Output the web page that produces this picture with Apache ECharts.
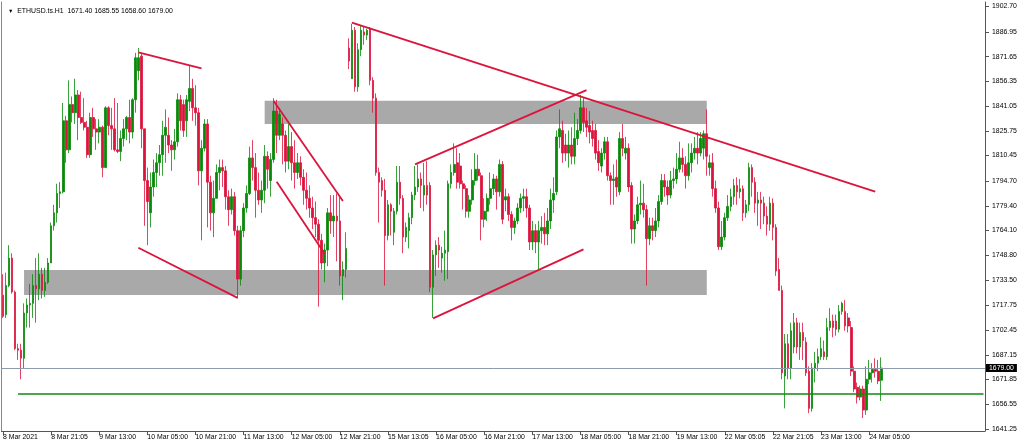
<!DOCTYPE html>
<html><head><meta charset="utf-8">
<script src="https://cdn.jsdelivr.net/npm/echarts@6/dist/echarts.min.js"></script>
<style>html,body{margin:0;padding:0;background:#fff}#c{width:1024px;height:447px}</style>
</head><body><div id="c"></div>
<script>
const opens=[
1724,1712,1730,1747,1726,1691,1690,1685,1713,1718,
1719,1730,1728,1737,1727,1732,1744,1767,1775,1787,
1788,1832,1814,1842,1837,1848,1834,1831,1828,1811,
1834,1827,1825,1828,1803,1840,1829,1827,1814,1813,
1821,1827,1834,1825,1845,1863,1872,1827,1795,1775,
1791,1800,1806,1811,1823,1823,1817,1814,1819,1845,
1842,1832,1844,1852,1840,1837,1801,1815,1830,1794,
1775,1784,1800,1803,1801,1785,1777,1785,1764,1734,
1764,1778,1787,1809,1803,1789,1783,1789,1810,1795,
1808,1838,1823,1830,1823,1807,1816,1806,1800,1806,
1797,1789,1784,1778,1772,1768,1758,1744,1752,1775,
1770,1773,1770,1736,1740,1877,1858,1888,1853,1876,
1887,1885,1889,1857,1846,1800,1795,1789,1761,1780,
1763,1776,1794,1784,1760,1764,1772,1786,1791,1796,
1786,1792,1792,1729,1749,1755,1747,1750,1751,1793,
1800,1806,1804,1793,1790,1776,1783,1795,1802,1798,
1771,1776,1784,1790,1796,1788,1805,1783,1785,1774,
1766,1770,1778,1784,1785,1778,1757,1764,1757,1764,
1766,1762,1770,1783,1788,1822,1826,1817,1812,1817,
1810,1821,1826,1840,1832,1829,1826,1826,1813,1804,
1812,1819,1798,1795,1797,1788,1821,1812,1815,1792,
1765,1770,1780,1781,1777,1759,1767,1764,1770,1782,
1795,1791,1786,1795,1796,1802,1809,1805,1798,1806,
1812,1815,1812,1815,1824,1803,1806,1790,1778,1754,
1760,1772,1779,1785,1792,1788,1790,1775,1780,1803,
1794,1781,1783,1781,1773,1768,1781,1766,1740,1727,
1674,1694,1679,1692,1707,1692,1701,1695,1677,1654,
1679,1682,1686,1689,1686,1704,1708,1708,1703,1714,
1714,1710,1704,1677,1667,1661,1666,1653,1672,1676,
1678,1677,1671.40];
const closes=[
1711,1730,1747,1726,1691,1690,1685,1713,1718,1719,
1730,1728,1737,1727,1732,1744,1767,1775,1787,1788,
1832,1814,1842,1837,1848,1834,1831,1828,1811,1834,
1827,1825,1828,1803,1840,1829,1827,1814,1813,1821,
1827,1834,1825,1845,1871,1871,1827,1795,1782,1791,
1800,1806,1811,1823,1828,1817,1814,1819,1845,1832,
1826,1845,1852,1840,1837,1801,1815,1830,1794,1775,
1784,1800,1803,1801,1785,1777,1785,1764,1734,1764,
1778,1787,1809,1803,1789,1783,1789,1810,1802,1808,
1838,1823,1836,1823,1807,1816,1806,1800,1806,1797,
1789,1784,1778,1772,1768,1758,1744,1752,1775,1770,
1773,1770,1736,1740,1753,1869,1888,1853,1876,1888,
1885,1888,1857,1846,1800,1794,1789,1761,1780,1776,
1776,1794,1784,1760,1766,1772,1786,1791,1796,1792,
1792,1786,1729,1749,1755,1752,1750,1752,1793,1800,
1805,1794,1793,1790,1776,1783,1795,1802,1798,1771,
1776,1784,1790,1796,1788,1805,1771,1785,1774,1766,
1770,1778,1784,1785,1778,1757,1764,1757,1764,1766,
1762,1770,1783,1787,1822,1827,1812,1812,1817,1810,
1821,1826,1840,1831,1828,1825,1821,1812,1806,1812,
1819,1798,1795,1796,1791,1821,1815,1815,1791,1765,
1770,1780,1781,1777,1759,1767,1764,1770,1782,1795,
1791,1786,1795,1796,1802,1809,1805,1798,1806,1812,
1815,1812,1821,1824,1810,1806,1790,1778,1754,1760,
1772,1779,1785,1792,1788,1790,1775,1780,1803,1794,
1781,1783,1781,1773,1768,1781,1766,1739,1727,1676,
1694,1679,1702,1707,1692,1701,1696,1676,1654,1679,
1682,1686,1691,1686,1704,1708,1704,1703,1714,1719,
1705,1705,1677,1666,1661,1666,1653,1672,1676,1678,
1677,1671,1679.00];
const lows=[
1710,1710,1729,1725,1690,1684,1672,1679,1704,1704,
1710,1707,1721,1722,1723,1731,1744,1764,1769,1778,
1787,1806,1812,1831,1830,1820,1830,1826,1809,1809,
1822,1814,1818,1797,1803,1823,1814,1813,1812,1807,
1816,1820,1818,1821,1837,1857,1815,1767,1755,1766,
1785,1791,1798,1798,1806,1812,1801,1808,1816,1826,
1822,1822,1838,1832,1829,1792,1758,1813,1766,1764,
1760,1784,1789,1791,1777,1767,1774,1761,1722,1730,
1760,1775,1786,1795,1772,1780,1775,1781,1790,1785,
1806,1812,1820,1805,1800,1802,1795,1790,1796,1792,
1780,1777,1772,1765,1760,1717,1740,1732,1742,1762,
1760,1745,1730,1721,1735,1864,1858,1850,1850,1872,
1879,1882,1854,1837,1798,1769,1785,1730,1758,1761,
1755,1774,1780,1750,1757,1753,1768,1783,1788,1778,
1776,1780,1726,1710,1736,1741,1738,1733,1734,1790,
1798,1790,1790,1777,1772,1772,1780,1792,1795,1758,
1766,1770,1780,1786,1777,1785,1768,1776,1770,1758,
1762,1768,1775,1776,1772,1752,1752,1750,1740,1756,
1755,1755,1765,1775,1786,1815,1806,1807,1803,1805,
1805,1817,1824,1825,1822,1818,1816,1808,1801,1800,
1808,1795,1780,1780,1785,1786,1810,1808,1788,1756,
1756,1768,1774,1772,1730,1755,1758,1760,1766,1780,
1785,1780,1784,1790,1793,1800,1800,1790,1795,1800,
1808,1805,1810,1808,1798,1798,1785,1775,1752,1752,
1758,1770,1776,1780,1780,1784,1770,1772,1776,1785,
1775,1767,1765,1768,1761,1764,1758,1736,1727,1672,
1654,1672,1672,1688,1688,1684,1684,1674,1651,1652,
1670,1677,1684,1684,1684,1702,1698,1699,1701,1712,
1702,1701,1674,1664,1657,1659,1648,1650,1669,1670,
1673,1669,1658.60];
const highs=[
1737,1738,1755,1750,1727,1694,1694,1719,1722,1731,
1737,1747,1750,1741,1741,1747,1769,1780,1793,1794,
1843,1835,1857,1847,1858,1851,1850,1846,1832,1837,
1840,1833,1833,1829,1841,1841,1840,1846,1843,1826,
1833,1835,1845,1846,1874,1877,1874,1827,1803,1800,
1808,1812,1817,1832,1839,1834,1820,1827,1849,1848,
1845,1848,1866,1858,1854,1840,1820,1833,1833,1798,
1795,1805,1808,1808,1804,1789,1790,1788,1767,1767,
1781,1792,1816,1820,1812,1800,1795,1817,1813,1812,
1846,1845,1840,1834,1826,1830,1825,1820,1812,1810,
1802,1800,1792,1785,1782,1771,1762,1756,1778,1786,
1786,1787,1786,1745,1763,1883,1892,1890,1880,1891,
1890,1889,1890,1859,1849,1803,1797,1796,1783,1781,
1778,1804,1804,1786,1769,1775,1788,1804,1805,1800,
1806,1807,1794,1752,1758,1760,1754,1764,1795,1805,
1818,1815,1812,1795,1792,1786,1802,1812,1811,1800,
1784,1787,1800,1799,1798,1808,1807,1790,1787,1776,
1772,1781,1787,1790,1790,1780,1770,1768,1770,1773,
1775,1778,1790,1797,1826,1839,1832,1824,1826,1828,
1837,1833,1848,1846,1840,1838,1832,1830,1820,1815,
1822,1822,1800,1805,1808,1825,1830,1822,1818,1794,
1774,1785,1795,1793,1780,1772,1772,1778,1786,1799,
1799,1795,1801,1803,1812,1819,1815,1810,1818,1818,
1822,1825,1825,1826,1839,1811,1812,1795,1782,1770,
1775,1786,1790,1796,1797,1796,1792,1783,1806,1805,
1797,1788,1788,1785,1779,1785,1784,1768,1747,1730,
1700,1700,1707,1713,1710,1707,1707,1698,1680,1682,
1689,1691,1698,1696,1710,1716,1712,1712,1718,1720,
1721,1713,1708,1680,1670,1668,1668,1680,1684,1682,
1685,1684,1685.55];

const tickLabels=['8 Mar 2021','8 Mar 21:05','9 Mar 13:00','10 Mar 05:00','10 Mar 21:00','11 Mar 13:00','12 Mar 05:00','12 Mar 21:00','15 Mar 13:05','16 Mar 05:00','16 Mar 21:00','17 Mar 13:00','18 Mar 05:00','18 Mar 21:00','19 Mar 13:00','22 Mar 05:05','22 Mar 21:05','23 Mar 13:00','24 Mar 05:00'];
const tickStep=16;
const totalSlots=327;
const yTicks=[1902.70,1886.95,1871.65,1856.35,1841.05,1825.75,1810.45,1794.70,1779.40,1764.10,1748.80,1733.50,1717.75,1702.45,1687.15,1671.85,1656.55,1641.25];
const lastPrice=1679.00;
const supportLevel=1662.8;
const supportStart=5;
// [startIndex, endIndex, topPrice, bottomPrice]
const zones=[[87,234,1844.4,1830.0],[7,234,1739.6,1724.2]];
const trendLines=[
 [[45,1874.3],[66,1864.4]],
 [[45,1753.4],[78,1722.4]],
 [[90,1844.2],[113,1782.3]],
 [[91,1794.3],[107,1749.5]],
 [[116,1892.7],[290,1788.1]],
 [[137,1805.0],[194,1851.0]],
 [[143,1709.7],[193,1752.4]]
];
const headerText='ETHUSD.ts.H1  1671.40 1685.55 1658.60 1679.00';

const categories=[];for(let i=0;i<totalSlots;i++)categories.push(String(i));
const candleData=opens.map((o,i)=>[o,closes[i],lows[i],highs[i]]);
const FONT='"Liberation Sans", Arial, sans-serif';
const FS=6.9;
const isTick=(i)=>i%tickStep===0 && (i/tickStep)<tickLabels.length;

const chart=echarts.init(document.getElementById('c'),null,{renderer:'canvas'});
const series=[
 {type:'line',data:[],z:1,silent:true,
  markArea:{silent:true,itemStyle:{color:'#a9a9a9',opacity:1},
   data:zones.map(z=>[{coord:[z[0],z[2]]},{coord:[z[1],z[3]]}])},
  markLine:{silent:true,symbol:['none','none'],animation:false,
   data:[
    [{coord:[supportStart,supportLevel],lineStyle:{color:'#118811',width:1.6,type:'solid'},label:{show:false}},{coord:[totalSlots-1,supportLevel]}],
    {yAxis:lastPrice,lineStyle:{color:'#8c9cab',width:1,type:'solid'},
     label:{show:true,position:'end',distance:1,formatter:lastPrice.toFixed(2),backgroundColor:'#000',color:'#fff',padding:[1,3,0,3],fontSize:FS,fontFamily:FONT}}
   ]}
 },
 {type:'candlestick',data:candleData,z:3,barWidth:2.2,barMinWidth:2,silent:true,
  itemStyle:{color:'#078a07',color0:'#dc143c',borderColor:'#078a07',borderColor0:'#dc143c',borderWidth:0.8}}
];
trendLines.forEach(tl=>series.push({type:'line',data:tl,symbol:'none',z:5,silent:true,
  lineStyle:{color:'#dc143c',width:1.8}}));

chart.setOption({
 animation:false,
 title:{text:'{t|▼}  '+headerText,left:3,top:3,
  textStyle:{fontSize:FS,fontWeight:'normal',color:'#000',fontFamily:FONT,
   rich:{t:{fontSize:5.5,color:'#000'}}}},
 grid:{left:1.5,right:39,top:2,bottom:16,containLabel:false},
 xAxis:{type:'category',data:categories,boundaryGap:true,
  axisLine:{show:true,lineStyle:{color:'#555',width:1}},
  axisTick:{show:true,alignWithLabel:true,interval:(i)=>isTick(i),length:4,lineStyle:{color:'#555'}},
  axisLabel:{interval:(i)=>isTick(i),formatter:(v,i)=>tickLabels[i/tickStep]||'',align:'left',margin:3,
   fontSize:FS,color:'#000',fontFamily:FONT},
  splitLine:{show:false}},
 yAxis:[
  {type:'value',position:'right',min:1640.0,max:1905.5,scale:true,
   axisLine:{show:true,lineStyle:{color:'#555'}},
   axisTick:{show:true,length:4,customValues:yTicks,lineStyle:{color:'#555'}},
   axisLabel:{customValues:yTicks,formatter:(v)=>Number(v).toFixed(2),margin:7,fontSize:FS,color:'#000',fontFamily:FONT},
   splitLine:{show:false}},
  {type:'value',position:'left',min:1640.0,max:1905.5,
   axisLine:{show:true,lineStyle:{color:'#888'}},axisTick:{show:false},axisLabel:{show:false},splitLine:{show:false}}
 ],
 series:series
});
</script></body></html>
